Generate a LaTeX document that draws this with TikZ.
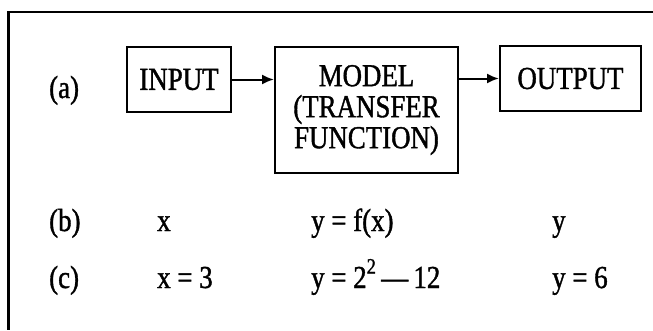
\documentclass[tikz,border=0pt]{standalone}
\usepackage{fontspec}
\setmainfont[FakeStretch=0.84, FakeBold=1.2]{Liberation Serif}
\usetikzlibrary{arrows.meta}

\begin{document}
\begin{tikzpicture}[
  x=1pt, y=-1pt,
  font=\fontsize{32}{31}\selectfont,
  blockbox/.style={draw, line width=2pt, align=center, inner sep=0pt},
  rowtext/.style={anchor=base west, inner sep=0pt},
  arrow/.style={-{Latex[length=12pt, width=10pt]}, line width=2pt},
  frame/.style={line width=2.4pt},
]
\useasboundingbox (0,0) rectangle (653,330);

% outer frame (open at right and bottom)
\coordinate (ftr) at (653,12);
\coordinate (fbl) at (8.5,330);
\draw[frame] (ftr) -- (fbl |- ftr) -- (fbl);

% (a) block diagram
\node[rowtext] (la) at (49,98) {(a)};
\node[blockbox, minimum width=104pt, minimum height=65pt] (input) at (179,79.5) {INPUT};
\node[blockbox, minimum width=183pt, minimum height=126pt] (model) at (366.5,110) {MODEL\\(TRANSFER\\FUNCTION)};
\node[blockbox, minimum width=141pt, minimum height=65pt] (output) at (570.5,78.5) {OUTPUT};

\draw[arrow] (input.east) -- (input.east -| model.west);
\draw[arrow] (model.east |- output.west) -- (output.west);

% (b) symbolic form
\node[rowtext] (lb) at (49,231) {(b)};
\node[rowtext] (bx) at (157,231) {x};
\node[rowtext] (bf) at (311,231) {y = f(x)};
\node[rowtext] (by) at (552,231) {y};

% (c) numeric example
\node[rowtext] (lc) at (49,288) {(c)};
\node[rowtext] (cx) at (157,288) {x = 3};
\node[rowtext] (cf) at (311,288) {y = 2\raisebox{0.45em}{\fontsize{22}{22}\selectfont 2}\,---\,12};
\node[rowtext] (cy) at (552,288) {y = 6};
\end{tikzpicture}
\end{document}
